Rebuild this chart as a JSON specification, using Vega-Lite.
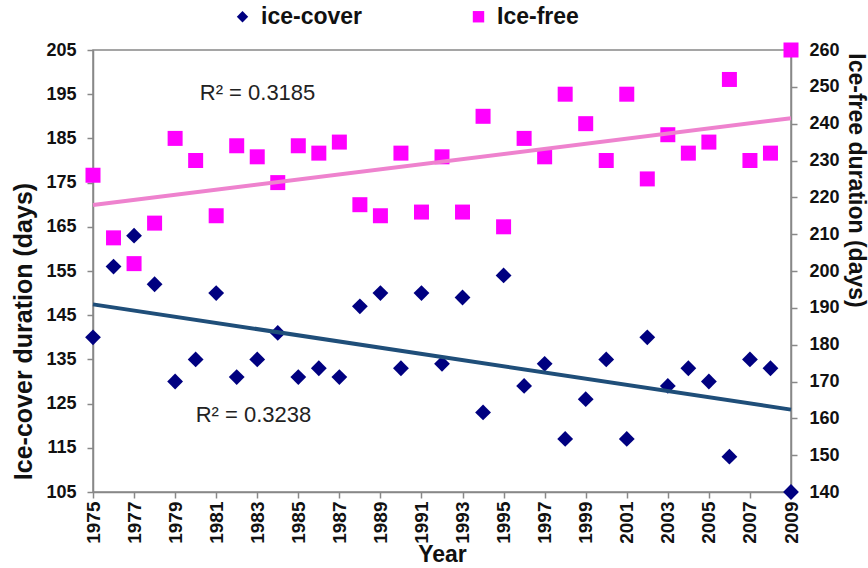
{
  "$schema": "https://vega.github.io/schema/vega-lite/v6.json",
  "width": 698,
  "height": 442,
  "autosize": "none",
  "padding": {"left": 93, "top": 50, "right": 77, "bottom": 76},
  "background": "white",
  "config": {
    "font": "Liberation Sans",
    "view": {"stroke": "#888888", "strokeWidth": 1.5},
    "axis": {
      "grid": false,
      "domainColor": "#888888",
      "domainWidth": 1.5,
      "tickColor": "#888888",
      "tickWidth": 1.5,
      "labelFont": "Liberation Sans",
      "labelFontWeight": "bold",
      "labelColor": "#111111",
      "labelOverlap": false,
      "titleColor": "#111111",
      "titleFont": "Liberation Sans",
      "titleFontWeight": "bold",
      "titleFontSize": 25
    },
    "legend": {
      "orient": "none",
      "legendX": 138,
      "legendY": -45,
      "direction": "horizontal",
      "labelFont": "Liberation Sans",
      "labelFontSize": 23,
      "labelFontWeight": "bold",
      "labelColor": "#111111",
      "symbolSize": 130,
      "columnPadding": 104,
      "labelOffset": 7
    }
  },
  "data": {
    "values": [
      {"year": 1975, "cover": 140, "free": 226},
      {"year": 1976, "cover": 156, "free": 209},
      {"year": 1977, "cover": 163, "free": 202},
      {"year": 1978, "cover": 152, "free": 213},
      {"year": 1979, "cover": 130, "free": 236},
      {"year": 1980, "cover": 135, "free": 230},
      {"year": 1981, "cover": 150, "free": 215},
      {"year": 1982, "cover": 131, "free": 234},
      {"year": 1983, "cover": 135, "free": 231},
      {"year": 1984, "cover": 141, "free": 224},
      {"year": 1985, "cover": 131, "free": 234},
      {"year": 1986, "cover": 133, "free": 232},
      {"year": 1987, "cover": 131, "free": 235},
      {"year": 1988, "cover": 147, "free": 218},
      {"year": 1989, "cover": 150, "free": 215},
      {"year": 1990, "cover": 133, "free": 232},
      {"year": 1991, "cover": 150, "free": 216},
      {"year": 1992, "cover": 134, "free": 231},
      {"year": 1993, "cover": 149, "free": 216},
      {"year": 1994, "cover": 123, "free": 242},
      {"year": 1995, "cover": 154, "free": 212},
      {"year": 1996, "cover": 129, "free": 236},
      {"year": 1997, "cover": 134, "free": 231},
      {"year": 1998, "cover": 117, "free": 248},
      {"year": 1999, "cover": 126, "free": 240},
      {"year": 2000, "cover": 135, "free": 230},
      {"year": 2001, "cover": 117, "free": 248},
      {"year": 2002, "cover": 140, "free": 225},
      {"year": 2003, "cover": 129, "free": 237},
      {"year": 2004, "cover": 133, "free": 232},
      {"year": 2005, "cover": 130, "free": 235},
      {"year": 2006, "cover": 113, "free": 252},
      {"year": 2007, "cover": 135, "free": 230},
      {"year": 2008, "cover": 133, "free": 232},
      {"year": 2009, "cover": 105, "free": 260}
    ]
  },
  "layer": [
    {
      "layer": [
        {
          "mark": {"type": "point", "filled": true, "size": 250, "opacity": 1},
          "encoding": {
            "x": {
              "field": "year",
              "type": "quantitative",
              "scale": {"domain": [1975, 2009], "nice": false, "zero": false},
              "axis": {
                "values": [1975, 1977, 1979, 1981, 1983, 1985, 1987, 1989, 1991, 1993, 1995, 1997, 1999, 2001, 2003, 2005, 2007, 2009],
                "tickCount": 40,
                "format": "d",
                "labelAngle": -90,
                "labelFontSize": 19,
                "labelOverlap": false,
                "tickSize": 6,
                "labelPadding": 3,
                "title": "Year",
                "titleFontSize": 23,
                "titlePadding": 0
              }
            },
            "y": {
              "field": "cover",
              "type": "quantitative",
              "scale": {"domain": [105, 205], "nice": false, "zero": false},
              "axis": {
                "orient": "left",
                "values": [105, 115, 125, 135, 145, 155, 165, 175, 185, 195, 205],
                "tickCount": 30,
                "labelFontSize": 18,
                "labelOverlap": false,
                "tickSize": 6,
                "labelPadding": 11,
                "title": "Ice-cover duration (days)",
                "titleX": -70,
                "titleY": 281,
                "titleAngle": -90,
                "titleAlign": "center",
                "titleBaseline": "middle"
              }
            },
            "color": {
              "datum": "ice-cover",
              "type": "nominal",
              "scale": {"domain": ["ice-cover", "Ice-free"], "range": ["#000080", "#FF00FF"]},
              "legend": {"title": null}
            },
            "shape": {
              "datum": "ice-cover",
              "type": "nominal",
              "scale": {"domain": ["ice-cover", "Ice-free"], "range": ["diamond", "square"]},
              "legend": {"title": null}
            }
          }
        },
        {
          "transform": [{"regression": "cover", "on": "year"}],
          "mark": {"type": "line", "color": "#1F4E79", "strokeWidth": 4},
          "encoding": {
            "x": {"field": "year", "type": "quantitative"},
            "y": {"field": "cover", "type": "quantitative"}
          }
        },
        {
          "data": {
            "values": [
              {"year": 1980.2, "cover": 195.3, "label": "R² = 0.3185"},
              {"year": 1980.0, "cover": 122.4, "label": "R² = 0.3238"}
            ]
          },
          "mark": {"type": "text", "align": "left", "baseline": "middle", "fontSize": 22, "font": "Liberation Sans", "color": "#222222"},
          "encoding": {
            "x": {"field": "year", "type": "quantitative"},
            "y": {"field": "cover", "type": "quantitative"},
            "text": {"field": "label"}
          }
        }
      ]
    },
    {
      "layer": [
        {
          "mark": {"type": "point", "filled": true, "size": 225, "opacity": 1},
          "encoding": {
            "x": {"field": "year", "type": "quantitative"},
            "y": {
              "field": "free",
              "type": "quantitative",
              "scale": {"domain": [140, 260], "nice": false, "zero": false},
              "axis": {
                "orient": "right",
                "values": [140, 150, 160, 170, 180, 190, 200, 210, 220, 230, 240, 250, 260],
                "tickCount": 30,
                "labelFontSize": 18,
                "labelOverlap": false,
                "tickSize": 6,
                "labelPadding": 12,
                "title": "Ice-free duration (days)",
                "titleFontSize": 23,
                "titleX": 64,
                "titleY": 130,
                "titleAngle": 90,
                "titleAlign": "center",
                "titleBaseline": "middle"
              }
            },
            "color": {"datum": "Ice-free", "type": "nominal", "legend": {"title": null}},
            "shape": {"datum": "Ice-free", "type": "nominal", "legend": {"title": null}}
          }
        },
        {
          "transform": [{"regression": "free", "on": "year"}],
          "mark": {"type": "line", "color": "#EE82CE", "strokeWidth": 4},
          "encoding": {
            "x": {"field": "year", "type": "quantitative"},
            "y": {"field": "free", "type": "quantitative"}
          }
        }
      ]
    }
  ],
  "resolve": {"scale": {"y": "independent"}}
}
